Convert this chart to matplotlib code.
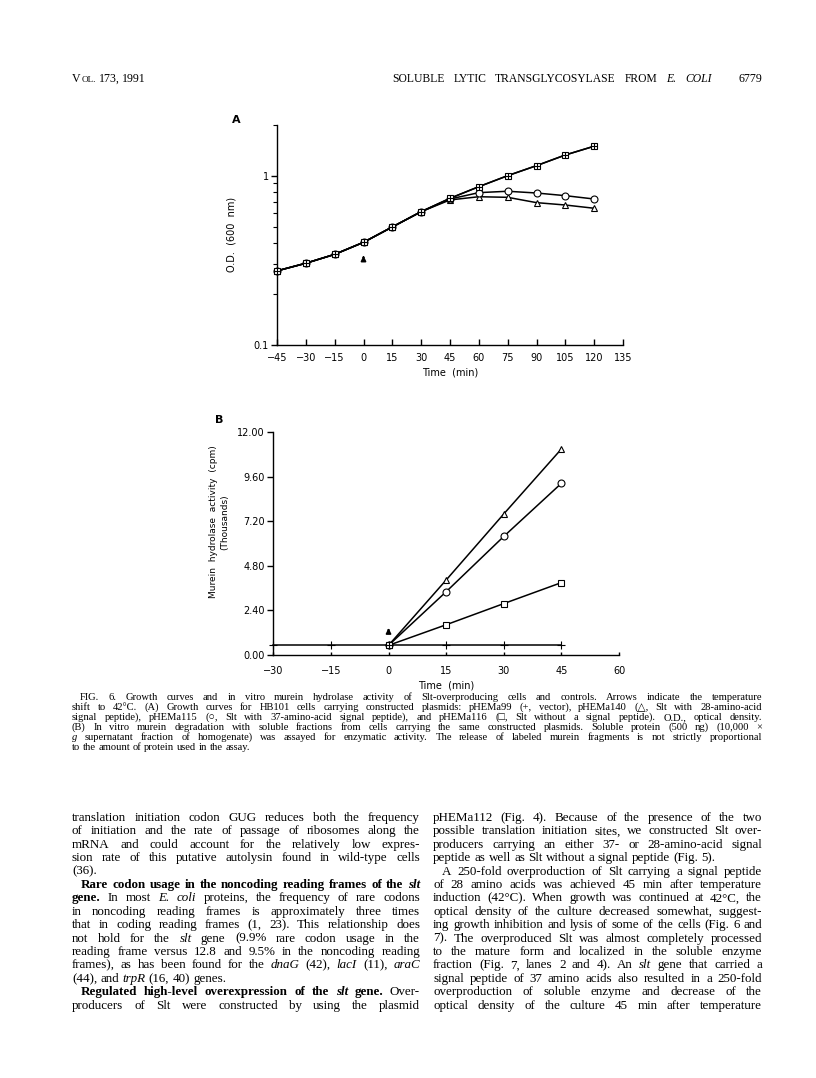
import re
import numpy as np
import matplotlib
matplotlib.use("Agg")
import matplotlib.pyplot as plt
from matplotlib.ticker import LogLocator, FixedLocator, NullFormatter, FormatStrFormatter

# panel A: growth curves (O.D. 600 nm)
time_a = [-45, -30, -15, 0, 15, 30, 45, 60, 75, 90, 105, 120]
od_vector = [0.274, 0.304, 0.343, 0.404, 0.498, 0.613, 0.735, 0.861, 1.0, 1.146, 1.325, 1.493]
od_nosignal = [0.274, 0.304, 0.343, 0.404, 0.498, 0.613, 0.735, 0.861, 1.0, 1.146, 1.325, 1.493]
od_sig37 = [0.274, 0.304, 0.343, 0.404, 0.498, 0.613, 0.728, 0.794, 0.809, 0.790, 0.762, 0.728]
od_sig28 = [0.274, 0.304, 0.343, 0.404, 0.498, 0.613, 0.719, 0.751, 0.745, 0.693, 0.671, 0.642]
ticks_a = [-45, -30, -15, 0, 15, 30, 45, 60, 75, 90, 105, 120, 135]

# panel B: murein hydrolase activity (thousands cpm)
time_b_vector = [-30, -15, 0, 15, 30, 45]
act_vector = [0.52, 0.52, 0.52, 0.52, 0.52, 0.52]
time_b = [0, 15, 30, 45]
act_sig28 = [0.52, 4.04, 7.60, 11.10]
act_sig37 = [0.52, 3.41, 6.39, 9.25]
act_nosignal = [0.52, 1.63, 2.77, 3.90]
ticks_b_x = [-30, -15, 0, 15, 30, 45, 60]
ticks_b_y = [0.0, 2.4, 4.8, 7.2, 9.6, 12.0]

W, H = 816, 1078
fig = plt.figure(figsize=(W / 100, H / 100), dpi=100)
sans = ["DejaVu Sans"]
serif = ["Liberation Serif", "DejaVu Sans"]


def rect(l, t, r, b):
    return [l / W, 1 - b / H, (r - l) / W, (b - t) / H]


def style_axes(ax):
    for s in ["top", "right"]:
        ax.spines[s].set_visible(False)
    for s in ["left", "bottom"]:
        ax.spines[s].set_linewidth(1.0)
    ax.tick_params(axis="y", which="major", direction="out", length=4, width=1.0, pad=2, labelsize=7)
    ax.tick_params(axis="y", which="minor", direction="out", length=3, width=0.8)
    ax.tick_params(axis="x", which="major", direction="in", length=4, width=1.0, pad=6, labelsize=7)
    for lab in ax.get_xticklabels() + ax.get_yticklabels():
        lab.set_family(sans)


def series(ax, x, y, marker, ms, z=3):
    ax.plot(x, y, color="black", lw=1.1, zorder=2, clip_on=False)
    face = "none" if marker == "+" else "white"
    ax.plot(x, y, ls="none", marker=marker, ms=ms, mfc=face, mec="black", mew=0.8,
            zorder=z, clip_on=False)


# ---- panel A
axA = fig.add_axes(rect(277, 124.7, 623, 345))
axA.set_yscale("log")
axA.set_xlim(-45, 135)
axA.set_ylim(0.1, 2.0)
series(axA, time_a, od_sig28, "^", 5.0)
series(axA, time_a, od_sig37, "o", 5.0)
series(axA, time_a, od_nosignal, "s", 4.6)
series(axA, time_a, od_vector, "+", 4.6, z=4)
axA.set_xticks(ticks_a)
axA.set_xticklabels([str(t).replace("-", "\u2212") for t in ticks_a])
axA.yaxis.set_major_locator(FixedLocator([0.1, 1.0]))
axA.yaxis.set_major_formatter(FormatStrFormatter("%g"))
axA.yaxis.set_minor_locator(LogLocator(base=10, subs=np.arange(2, 10)))
axA.yaxis.set_minor_formatter(NullFormatter())
style_axes(axA)
axA.set_xlabel("Time  (min)", family=sans, fontsize=7, labelpad=3)
axA.set_ylabel("O.D.  (600  nm)", family=sans, fontsize=7, labelpad=12)
axA.annotate("", xy=(0, 0.350), xytext=(0, 0.316),
             arrowprops=dict(arrowstyle="-|>", color="black", lw=1.3, mutation_scale=7))
fig.text(232 / W, 1 - 120 / H, "A", family=sans, fontsize=8, fontweight="bold", va="center")

# ---- panel B
axB = fig.add_axes(rect(273.3, 432.3, 619, 655))
axB.set_xlim(-30, 60)
axB.set_ylim(0, 12)
series(axB, time_b, act_sig28, "^", 5.0)
series(axB, time_b, act_sig37, "o", 5.0)
series(axB, time_b, act_nosignal, "s", 4.6)
series(axB, time_b_vector, act_vector, "+", 5.5, z=4)
axB.set_xticks(ticks_b_x)
axB.set_xticklabels([str(t).replace("-", "\u2212") for t in ticks_b_x])
axB.set_yticks(ticks_b_y)
axB.yaxis.set_major_formatter(FormatStrFormatter("%.2f"))
style_axes(axB)
axB.tick_params(axis="x", which="major", length=2, pad=8)
axB.set_xlabel("Time  (min)", family=sans, fontsize=7, labelpad=3)
axB.annotate("", xy=(0, 1.6), xytext=(0, 1.15),
             arrowprops=dict(arrowstyle="-|>", color="black", lw=1.3, mutation_scale=7))
fig.text(213 / W, 1 - 522 / H, "Murein  hydrolase  activity  (cpm)", family=sans, fontsize=6.5,
         rotation=90, ha="center", va="center")
fig.text(225 / W, 1 - 522 / H, "(Thousands)", family=sans, fontsize=6.5,
         rotation=90, ha="center", va="center")
fig.text(215 / W, 1 - 420 / H, "B", family=sans, fontsize=8, fontweight="bold", va="center")

# ---- page text
renderer = fig.canvas.get_renderer()


def b(s):
    return " ".join("**" + w + "**" for w in s.split())


def parse(line):
    words = []
    for w in line.split():
        m = re.fullmatch(r"(\*{1,3})(.+?)\1", w)
        if m:
            words.append((m.group(2), len(m.group(1))))
        else:
            words.append((w, 0))
    return words


def make_text(w, st, size):
    return fig.text(0, 0, w, fontsize=size, family=serif,
                    fontweight="bold" if st >= 2 else "normal",
                    fontstyle="italic" if st in (1, 3) else "normal",
                    ha="left", va="baseline")


def natural_width(line, size):
    ws = []
    for w, st in parse(line):
        t = make_text(w, st, size)
        ws.append(t.get_window_extent(renderer).width)
        t.remove()
    return sum(ws) + 0.25 * size * 100 / 72 * (len(ws) - 1)


def put_line(line, x0, x1, y, size, justify=True):
    objs = [make_text(w, st, size) for w, st in parse(line)]
    widths = [t.get_window_extent(renderer).width for t in objs]
    gap = 0.25 * size * 100 / 72
    if justify and len(objs) > 1:
        gap = (x1 - x0 - sum(widths)) / (len(objs) - 1)
    x = x0
    for t, wd in zip(objs, widths):
        t.set_position((x / W, 1 - y / H))
        x += wd + gap
    return x - gap


def fit_size(lines, spans, probe=10.0):
    # largest size at which every justified line still fits its span
    ratios = [(x1 - x0) / natural_width(line, probe) for line, (x0, x1) in zip(lines, spans)]
    return probe * min(ratios) * 0.985


# header
x = put_line("V", 72, 0, 82, 8.6, justify=False)
x = put_line("OL.", x + 0.5, 0, 82, 6.6, justify=False)
put_line("173, 1991", x + 3, 0, 82, 8.6, justify=False)
put_line("SOLUBLE LYTIC TRANSGLYCOSYLASE FROM *E.* *COLI*", 392, 712, 82, 8.4)
fig.text(762 / W, 1 - 82 / H, "6779", fontsize=8.6, family=serif, ha="right", va="baseline")

caption = [
    "FIG. 6. Growth curves and in vitro murein hydrolase activity of Slt-overproducing cells and controls. Arrows indicate the temperature",
    "shift to 42\u00b0C. (A) Growth curves for HB101 cells carrying constructed plasmids: pHEMa99 (+, vector), pHEMa140 (\u25b3, Slt with 28-amino-acid",
    "signal peptide), pHEMa115 (\u25cb, Slt with 37-amino-acid signal peptide), and pHEMa116 (\u25a1, Slt without a signal peptide). O.D., optical density.",
    "(B) In vitro murein degradation with soluble fractions from cells carrying the same constructed plasmids. Soluble protein (500 ng) (10,000 \u00d7",
    "*g* supernatant fraction of homogenate) was assayed for enzymatic activity. The release of labeled murein fragments is not strictly proportional",
    "to the amount of protein used in the assay.",
]
cap_y = [700, 710, 720, 730, 740, 750]
cap_x0 = [80, 72, 72, 72, 72, 72]
cap_size = min(7.6, fit_size(caption[:-1], [(x0, 762) for x0 in cap_x0[:-1]]))
for i, line in enumerate(caption):
    put_line(line, cap_x0[i], 762, cap_y[i], cap_size, justify=(i < len(caption) - 1))

left_col = [
    ("translation initiation codon GUG reduces both the frequency", True, 0),
    ("of initiation and the rate of passage of ribosomes along the", True, 0),
    ("mRNA and could account for the relatively low expres-", True, 0),
    ("sion rate of this putative autolysin found in wild-type cells", True, 0),
    ("(36).", False, 0),
    (b("Rare codon usage in the noncoding reading frames of the") + " ***slt***", True, 9),
    ("**gene.** In most *E.* *coli* proteins, the frequency of rare codons", True, 0),
    ("in noncoding reading frames is approximately three times", True, 0),
    ("that in coding reading frames (1, 23). This relationship does", True, 0),
    ("not hold for the *slt* gene (9.9% rare codon usage in the", True, 0),
    ("reading frame versus 12.8 and 9.5% in the noncoding reading", True, 0),
    ("frames), as has been found for the *dnaG* (42), *lacI* (11), *araC*", True, 0),
    ("(44), and *trpR* (16, 40) genes.", False, 0),
    (b("Regulated high-level overexpression of the") + " ***slt*** **gene.** Over-", True, 9),
    ("producers of Slt were constructed by using the plasmid", True, 0),
]
right_col = [
    ("pHEMa112 (Fig. 4). Because of the presence of the two", True, 0),
    ("possible translation initiation sites, we constructed Slt over-", True, 0),
    ("producers carrying an either 37- or 28-amino-acid signal", True, 0),
    ("peptide as well as Slt without a signal peptide (Fig. 5).", False, 0),
    ("A 250-fold overproduction of Slt carrying a signal peptide", True, 9),
    ("of 28 amino acids was achieved 45 min after temperature", True, 0),
    ("induction (42\u00b0C). When growth was continued at 42\u00b0C, the", True, 0),
    ("optical density of the culture decreased somewhat, suggest-", True, 0),
    ("ing growth inhibition and lysis of some of the cells (Fig. 6 and", True, 0),
    ("7). The overproduced Slt was almost completely processed", True, 0),
    ("to the mature form and localized in the soluble enzyme", True, 0),
    ("fraction (Fig. 7, lanes 2 and 4). An *slt* gene that carried a", True, 0),
    ("signal peptide of 37 amino acids also resulted in a 250-fold", True, 0),
    ("overproduction of soluble enzyme and decrease of the", True, 0),
    ("optical density of the culture 45 min after temperature", True, 0),
]
cols = [(left_col, 72, 420), (right_col, 433, 762)]
fit_lines, fit_spans = [], []
for col, x0, x1 in cols:
    for line, just, ind in col:
        if just:
            fit_lines.append(line)
            fit_spans.append((x0 + ind, x1))
body_size = fit_size(fit_lines, fit_spans)

body_top = 821
body_step = 13.4
for col, x0, x1 in cols:
    for i, (line, just, ind) in enumerate(col):
        put_line(line, x0 + ind, x1, body_top + i * body_step, body_size, justify=just)

fig.savefig("out.png", dpi=100)
